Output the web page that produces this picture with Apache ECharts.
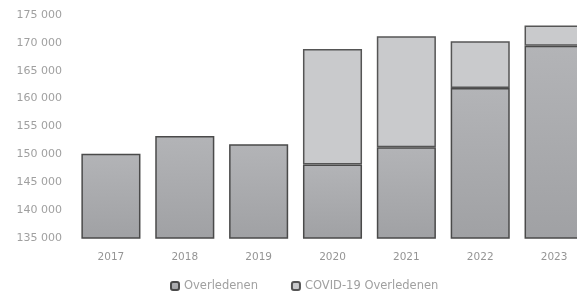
<!DOCTYPE html>
<html>
<head>
<meta charset="utf-8">
<script src="https://cdn.jsdelivr.net/npm/echarts@6/dist/echarts.min.js"></script>
<style>html,body{margin:0;padding:0;background:#fff;overflow:hidden}#c{width:577px;height:302px}</style>
</head>
<body>
<div id="c"></div>
<script>
var categories = ['2017','2018','2019','2020','2021','2022','2023'];
var overledenen = [150100, 153300, 151800, 148200, 151300, 161900, 169500];
var covidOverledenen = ['-', '-', '-', 20700, 19900, 8400, 3600];
var seriesNames = ['Overledenen', 'COVID-19 Overledenen'];
var yMin = 135000, yMax = 175000, yStep = 5000;

var chart = echarts.init(document.getElementById('c'), null, {renderer: 'canvas'});
var font = 'DejaVu Sans';
chart.setOption({
  animation: false,
  backgroundColor: '#ffffff',
  grid: {left: 74, width: 517, top: 15, height: 223, containLabel: false, outerBoundsMode: 'none'},
  legend: {
    bottom: 10, left: 170, padding: 0, itemWidth: 8, itemHeight: 8, itemGap: 33,
    textStyle: {fontFamily: font, fontSize: 11.5, color: '#a0a0a0'},
    data: seriesNames
  },
  xAxis: {
    type: 'category', data: categories,
    axisLine: {show: false}, axisTick: {show: false},
    axisLabel: {fontFamily: font, fontSize: 10.5, color: '#959595', margin: 14}
  },
  yAxis: {
    type: 'value', min: yMin, max: yMax, interval: yStep,
    splitLine: {show: false}, axisLine: {show: false}, axisTick: {show: false},
    axisLabel: {
      fontFamily: font, fontSize: 11, color: '#a0a0a0', margin: 12,
      formatter: function (v) { return String(v).replace(/\B(?=(\d{3})+(?!\d))/g, ' '); }
    }
  },
  series: [
    {
      name: seriesNames[0], type: 'bar', stack: 'total', data: overledenen,
      barCategoryGap: '20%',
      itemStyle: {
        color: new echarts.graphic.LinearGradient(0, 0, 0, 1, [
          {offset: 0, color: '#b3b4b7'}, {offset: 1, color: '#a0a1a4'}
        ]),
        borderColor: '#4a4a4a', borderWidth: 1.5
      }
    },
    {
      name: seriesNames[1], type: 'bar', stack: 'total', data: covidOverledenen,
      barCategoryGap: '20%',
      itemStyle: {color: '#c9cacc', borderColor: '#555555', borderWidth: 1.5}
    }
  ]
});
</script>
</body>
</html>
